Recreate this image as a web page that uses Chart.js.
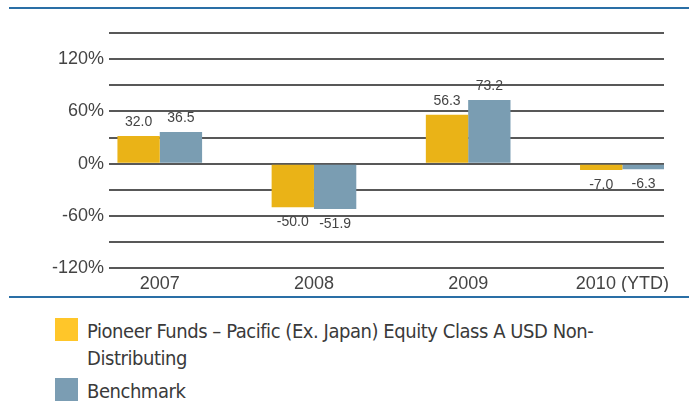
<!DOCTYPE html>
<html>
<head>
<meta charset="utf-8">
<script src="https://cdn.jsdelivr.net/npm/chart.js@4.4.1/dist/chart.umd.min.js"></script>
<style>
  html, body { margin: 0; padding: 0; background: #fff; overflow: hidden; }
  #wrap { position: relative; width: 689px; height: 401px; }
  #chartBox { position: absolute; left: 0; top: 0; width: 689px; height: 292px; }
  .rule { position: absolute; left: 9px; right: 0; height: 2px; background: #2a6fa6; }
  #legend { position: absolute; left: 55px; top: 318px; font-family: "DejaVu Sans Condensed", "Liberation Sans Narrow", sans-serif; font-size: 20px; letter-spacing: -0.45px; color: #3a3a3a; }
  .item { position: relative; padding-left: 32px; line-height: 27px; width: 560px; }
  .swatch { position: absolute; left: 0; top: 0; width: 23px; height: 23px; }
</style>
</head>
<body>
<div id="wrap">
  <div class="rule" style="top:7px"></div>
  <div id="chartBox"><canvas id="perfChart"></canvas></div>
  <div class="rule" style="top:296px"></div>
  <div id="legend"></div>
</div>
<script>
// --------- Data ---------
const categories = ["2007", "2008", "2009", "2010 (YTD)"];
const fundValues = [32.0, -50.0, 56.3, -7.0];
const benchmarkValues = [36.5, -51.9, 73.2, -6.3];
const seriesLabels = ["Pioneer Funds \u2013 Pacific (Ex. Japan) Equity Class A USD Non-Distributing", "Benchmark"];
const barColors = ["#eab317", "#7a9db2"];
const legendColors = ["#ffc629", "#7b9db3"];
const yTicks = [-120, -90, -60, -30, 0, 30, 60, 90, 120, 150];

// Value labels above / below each bar
const valueLabels = {
  id: "valueLabels",
  afterDatasetsDraw(chart) {
    const ctx = chart.ctx;
    ctx.save();
    ctx.font = "14px 'Liberation Sans', Arial, sans-serif";
    ctx.fillStyle = "#444";
    ctx.textAlign = "center";
    ctx.textBaseline = "middle";
    chart.data.datasets.forEach((ds, di) => {
      const meta = chart.getDatasetMeta(di);
      meta.data.forEach((bar, i) => {
        const v = ds.data[i].y;
        const y = v >= 0 ? bar.y - 14 : bar.y + 15;
        ctx.fillText(v.toFixed(1), bar.x, y);
      });
    });
    ctx.restore();
  }
};

function toPoints(values) {
  return values.map((v, i) => ({ x: i, y: v }));
}

const ctx = document.getElementById("perfChart");
new Chart(ctx, {
  type: "bar",
  data: {
    datasets: [
      {
        label: seriesLabels[0],
        data: toPoints(fundValues),
        backgroundColor: barColors[0],
        borderWidth: 0
      },
      {
        label: seriesLabels[1],
        data: toPoints(benchmarkValues),
        backgroundColor: barColors[1],
        borderWidth: 0
      }
    ]
  },
  options: {
    responsive: true,
    maintainAspectRatio: false,
    animation: false,
    categoryPercentage: 0.549,
    barPercentage: 1.0,
    layout: { padding: { left: 47, right: 25, top: 33, bottom: 0 } },
    plugins: {
      legend: { display: false },
      tooltip: { enabled: false }
    },
    scales: {
      x: {
        type: "linear",
        offset: false,
        min: -0.329,
        max: 3.27,
        afterBuildTicks: (scale) => {
          scale.ticks = categories.map((c, i) => ({ value: i }));
        },
        grid: { display: false },
        border: { display: false },
        ticks: {
          color: "#444",
          padding: -3,
          font: { family: "'Liberation Sans', Arial, sans-serif", size: 18 },
          maxRotation: 0,
          autoSkip: false,
          callback: (v) => categories[Math.round(v)]
        }
      },
      y: {
        min: yTicks[0],
        max: yTicks[yTicks.length - 1],
        afterBuildTicks: (scale) => {
          scale.ticks = yTicks.map((v) => ({ value: v }));
        },
        grid: { color: "#585858", lineWidth: 2, drawTicks: false },
        border: { display: false },
        ticks: {
          color: "#444",
          padding: 5,
          autoSkip: false,
          font: { family: "'Liberation Sans', Arial, sans-serif", size: 18 },
          callback: (v) => (v % 60 === 0 ? v + "%" : "")
        }
      }
    }
  },
  plugins: [valueLabels]
});

// --------- HTML legend ---------
const legendEl = document.getElementById("legend");
seriesLabels.forEach((label, i) => {
  const item = document.createElement("div");
  item.className = "item";
  if (i > 0) item.style.marginTop = "6px";
  const sw = document.createElement("span");
  sw.className = "swatch";
  sw.style.background = legendColors[i];
  item.appendChild(sw);
  item.appendChild(document.createTextNode(label));
  legendEl.appendChild(item);
});
</script>
</body>
</html>
